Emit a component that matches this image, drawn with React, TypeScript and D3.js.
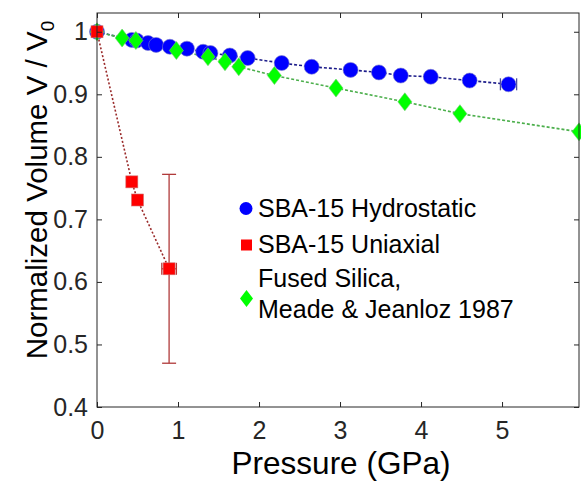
import React, { useEffect, useRef } from "react";
import * as d3 from "d3";

// SBA-15 hydrostatic compression
const hydroP = [0, 0.43, 0.49, 0.63, 0.73, 0.9, 1.11, 1.31, 1.4, 1.64, 1.86, 2.28, 2.65, 3.13, 3.48, 3.75, 4.12, 4.6, 5.08];
const hydroV = [1.0, 0.987, 0.986, 0.982, 0.979, 0.976, 0.973, 0.968, 0.966, 0.962, 0.958, 0.95, 0.944, 0.939, 0.935, 0.93, 0.928, 0.922, 0.916];
const hydroPErr = [0, 0, 0, 0, 0, 0, 0, 0, 0, 0, 0, 0, 0, 0, 0, 0, 0, 0, 0.1];

// SBA-15 uniaxial compression
const uniP = [0, 0.43, 0.5, 0.89];
const uniV = [1.0, 0.76, 0.731, 0.621];
const uniPErr = [0, 0, 0, 0.09];
const uniVErr = [0, 0, 0, 0.151];

// Fused silica, Meade & Jeanloz 1987
const fusedP = [0, 0.31, 0.48, 0.98, 1.37, 1.58, 1.75, 2.19, 2.95, 3.8, 4.48, 5.95];
const fusedV = [1.0, 0.99, 0.986, 0.97, 0.96, 0.952, 0.944, 0.93, 0.91, 0.888, 0.869, 0.84];

const xTicks = [0, 1, 2, 3, 4, 5];
const yTicks = [0.4, 0.5, 0.6, 0.7, 0.8, 0.9, 1];

const legendLabels = [["SBA-15 Hydrostatic"], ["SBA-15 Uniaxial"], ["Fused Silica,", "Meade & Jeanloz 1987"]];

const FONT = "'Liberation Sans', Arial, sans-serif";

const Chart = ({ width = 581, height = 485 }) => {
  const svgRef = useRef(null);

  useEffect(() => {
    const svg = d3.select(svgRef.current);
    svg.selectAll("*").remove();

    const margin = { top: 13, right: 2, bottom: 78, left: 97 };
    const innerWidth = width - margin.left - margin.right;
    const innerHeight = height - margin.top - margin.bottom;

    const g = svg
      .attr("width", width)
      .attr("height", height)
      .append("g")
      .attr("transform", `translate(${margin.left}, ${margin.top})`);

    const x = d3.scaleLinear().domain([0, 5.95]).range([0, innerWidth]);
    const y = d3.scaleLinear().domain([0.4, 1.03]).range([innerHeight, 0]);

    const hydro = hydroP.map((p, i) => ({ p, v: hydroV[i], pe: hydroPErr[i] }));
    const uni = uniP.map((p, i) => ({ p, v: uniV[i], pe: uniPErr[i], ve: uniVErr[i] }));
    const fused = fusedP.map((p, i) => ({ p, v: fusedV[i] }));

    const line = d3
      .line()
      .x((d) => x(d.p))
      .y((d) => y(d.v));

    // connecting lines
    g.append("path")
      .datum(hydro)
      .attr("fill", "none")
      .attr("stroke", "#1c1c8a")
      .attr("stroke-width", 1.6)
      .attr("stroke-dasharray", "3 2")
      .attr("d", line);

    g.append("path")
      .datum(fused)
      .attr("fill", "none")
      .attr("stroke", "#4caf4c")
      .attr("stroke-width", 1.6)
      .attr("stroke-dasharray", "3 2")
      .attr("d", line);

    g.append("path")
      .datum(uni)
      .attr("fill", "none")
      .attr("stroke", "#9a2a2a")
      .attr("stroke-width", 1.6)
      .attr("stroke-dasharray", "2 2")
      .attr("d", line);

    // error bars
    const hErr = hydro.filter((d) => d.pe > 0);
    hErr.forEach((d) => {
      const eg = g.append("g").attr("stroke", "#4a4aa0").attr("stroke-width", 1.3);
      eg.append("line").attr("x1", x(d.p - d.pe)).attr("x2", x(d.p + d.pe)).attr("y1", y(d.v)).attr("y2", y(d.v));
      [d.p - d.pe, d.p + d.pe].forEach((pp) =>
        eg.append("line").attr("x1", x(pp)).attr("x2", x(pp)).attr("y1", y(d.v) - 6).attr("y2", y(d.v) + 6)
      );
    });

    // blue circles
    g.selectAll(".hydro")
      .data(hydro)
      .enter()
      .append("circle")
      .attr("class", "hydro")
      .attr("cx", (d) => x(d.p))
      .attr("cy", (d) => y(d.v))
      .attr("r", 7.5)
      .attr("fill", "#0000ff")
      .attr("stroke", "#7a7acc")
      .attr("stroke-width", 0.6);

    // green diamonds
    const diamond = (cx, cy, w, h) =>
      `M${cx},${cy - h / 2}L${cx + w / 2},${cy}L${cx},${cy + h / 2}L${cx - w / 2},${cy}Z`;

    g.selectAll(".fused")
      .data(fused)
      .enter()
      .append("path")
      .attr("class", "fused")
      .attr("d", (d) => diamond(x(d.p), y(d.v), 14, 18))
      .attr("fill", "#00ff00")
      .attr("stroke", "#6fcf6f")
      .attr("stroke-width", 0.6);

    // uniaxial error bars
    uni
      .filter((d) => d.ve > 0 || d.pe > 0)
      .forEach((d) => {
        const eg = g.append("g").attr("stroke", "#b03a3a").attr("stroke-width", 1.3);
        eg.append("line").attr("x1", x(d.p)).attr("x2", x(d.p)).attr("y1", y(d.v - d.ve)).attr("y2", y(d.v + d.ve));
        [d.v - d.ve, d.v + d.ve].forEach((vv) =>
          eg.append("line").attr("x1", x(d.p) - 7).attr("x2", x(d.p) + 7).attr("y1", y(vv)).attr("y2", y(vv))
        );
        eg.append("line").attr("x1", x(d.p - d.pe)).attr("x2", x(d.p + d.pe)).attr("y1", y(d.v)).attr("y2", y(d.v));
        [d.p - d.pe, d.p + d.pe].forEach((pp) =>
          eg.append("line").attr("x1", x(pp)).attr("x2", x(pp)).attr("y1", y(d.v) - 6).attr("y2", y(d.v) + 6)
        );
      });

    // red squares
    g.selectAll(".uni")
      .data(uni)
      .enter()
      .append("rect")
      .attr("class", "uni")
      .attr("x", (d) => x(d.p) - 6)
      .attr("y", (d) => y(d.v) - 6)
      .attr("width", 12)
      .attr("height", 12)
      .attr("fill", "#ff0000")
      .attr("stroke", "#d07070")
      .attr("stroke-width", 0.6);

    // axes box with inner ticks
    const axisColor = "#262626";
    g.append("rect")
      .attr("width", innerWidth)
      .attr("height", innerHeight)
      .attr("fill", "none")
      .attr("stroke", axisColor)
      .attr("stroke-width", 1);

    const bottom = g.append("g").attr("transform", `translate(0, ${innerHeight})`).call(d3.axisBottom(x).tickValues(xTicks).tickSizeInner(-5).tickSizeOuter(0).tickPadding(14).tickFormat(d3.format("d")));
    const top = g.append("g").call(d3.axisTop(x).tickValues(xTicks).tickSizeInner(-5).tickSizeOuter(0).tickFormat(""));
    const left = g.append("g").call(d3.axisLeft(y).tickValues(yTicks).tickSizeInner(-5).tickSizeOuter(0).tickPadding(9).tickFormat((d) => (d === 1 ? "1" : d3.format(".1f")(d))));
    const right = g.append("g").attr("transform", `translate(${innerWidth}, 0)`).call(d3.axisRight(y).tickValues(yTicks).tickSizeInner(-5).tickSizeOuter(0).tickFormat(""));

    [bottom, top, left, right].forEach((a) => {
      a.select(".domain").remove();
      a.selectAll("line").attr("stroke", axisColor);
      a.selectAll("text").attr("fill", axisColor).style("font-family", FONT).style("font-size", "25px");
    });

    // axis titles
    g.append("text")
      .attr("x", innerWidth / 2 + 3)
      .attr("y", innerHeight + 67)
      .attr("text-anchor", "middle")
      .attr("fill", "#000")
      .style("font-family", FONT)
      .style("font-size", "31.5px")
      .text("Pressure (GPa)");

    const yt = g
      .append("text")
      .attr("transform", `translate(${47 - margin.left}, ${190 - margin.top}) rotate(-90)`)
      .attr("text-anchor", "middle")
      .attr("fill", "#000")
      .style("font-family", FONT)
      .style("font-size", "29.5px");
    yt.append("tspan").text("Normalized Volume V / V");
    yt.append("tspan").attr("dy", 7).style("font-size", "19px").text("0");

    // legend
    const lg = svg.append("g").style("font-family", FONT).style("font-size", "25px");
    const baselines = [[216.7], [253.3], [286.7, 318.3]];
    const markerY = [208.5, 245, 298.5];
    legendLabels.forEach((lines, i) => {
      lines.forEach((t, j) => {
        lg.append("text").attr("x", 258).attr("y", baselines[i][j]).attr("fill", "#000").text(t);
      });
    });
    lg.append("circle").attr("cx", 246).attr("cy", markerY[0]).attr("r", 6.5).attr("fill", "#0000ff");
    lg.append("rect").attr("x", 241).attr("y", markerY[1] - 5.5).attr("width", 11).attr("height", 11).attr("fill", "#ff0000");
    lg.append("path").attr("d", diamond(246.5, markerY[2], 13, 17)).attr("fill", "#00ff00");
  }, [width, height]);

  return <svg ref={svgRef} style={{ position: "absolute", left: 0, top: 0, background: "#fff" }}></svg>;
};

export default function App() {
  return <Chart />;
}
